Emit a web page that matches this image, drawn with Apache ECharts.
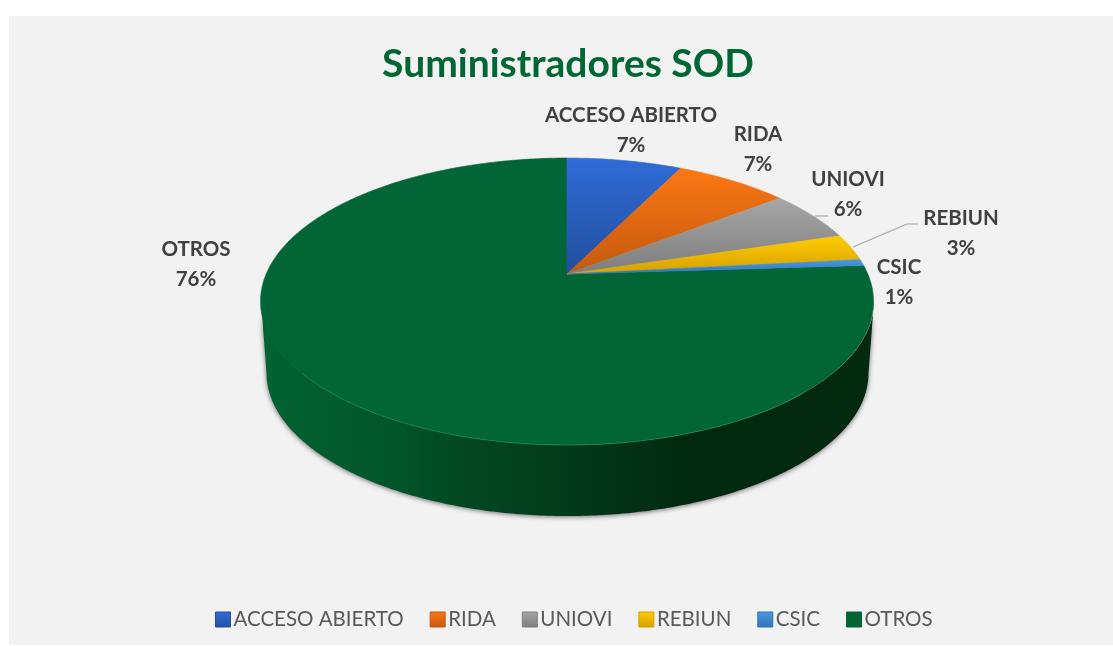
<!DOCTYPE html>
<html>
<head>
<meta charset="utf-8">
<style>html,body{margin:0;padding:0;background:#fff}#c{width:1113px;height:646px}</style>
<script src="https://cdn.jsdelivr.net/npm/echarts@6/dist/echarts.min.js"></script>
</head>
<body>
<div id="c"></div>
<script>
var categories = ['ACCESO ABIERTO', 'RIDA', 'UNIOVI', 'REBIUN', 'CSIC', 'OTROS'];
var values = [7.3, 7.2, 5.8, 3.0, 0.7, 76.0];
var topColors = ['#2f6cd8', '#fc7713', '#a6a6a6', '#ffcc00', '#4a9ae2', '#026535'];
var bottomColors = ['#234f9e', '#c4590f', '#7d7d7d', '#d69f00', '#2f74b5', '#026535'];
var labelCenters = [[631, 130], [758, 149], [848, 194], [961, 233], [899, 282], [196, 264]];
var leaderLines = [null, null, [[815, 216], [828, 216]], [[853, 247], [907, 224], [918, 224]], null, null];

var apex = [567, 274], A = 138.2, C = 0.1916, RX = 300.8;
var total = values.reduce(function (a, b) { return a + b; }, 0);

function topPt(phi) {
  var u = Math.sin(phi), v = Math.cos(phi), d = 1 + C * v;
  return [apex[0] + RX * u / d, apex[1] - A * v / d];
}
function wallTop(t) { return [567.5 + 306.5 * Math.cos(t), 301.5 + 143.5 * Math.sin(t)]; }
function wallBottom(t) { return [567.5 + 301 * Math.cos(t), 373 + 143 * Math.sin(t)]; }

function renderSlice(params, api) {
  var i = params.seriesIndex;
  var start = 0;
  for (var k = 0; k < i; k++) start += values[k];
  var a0 = start / total * 2 * Math.PI, a1 = (start + api.value(0)) / total * 2 * Math.PI;
  var pts = [apex], n = Math.max(4, Math.ceil((a1 - a0) * 60));
  for (var s = 0; s <= n; s++) pts.push(topPt(a0 + (a1 - a0) * s / n));
  var ys = pts.map(function (p) { return p[1]; });
  var fill = new echarts.graphic.LinearGradient(0, Math.min.apply(null, ys), 0, Math.max.apply(null, ys),
    [{ offset: 0, color: topColors[i] }, { offset: 1, color: bottomColors[i] }], true);
  var children = [];

  // Front wall: the visible lower half of the disc, drawn by the slice that faces the viewer
  var frontStart = Math.PI * 0.5 + 0.19, frontEnd = Math.PI * 1.5 - 0.19;
  var faces = Math.min(a1, frontEnd) > Math.max(a0, frontStart);
  if (faces) {
    var up = [], down = [], m = 240;
    for (var j = 0; j <= m; j++) {
      var t = Math.PI * j / m;
      up.push(wallTop(t));
      down.unshift(wallBottom(t));
    }
    children.push({
      type: 'polygon', shape: { points: up.concat(down) },
      style: {
        fill: new echarts.graphic.LinearGradient(262, 0, 872, 0, [
          { offset: 0, color: '#026331' }, { offset: 0.22, color: '#02542a' },
          { offset: 0.36, color: '#034520' }, { offset: 0.5, color: '#033a1b' },
          { offset: 0.63, color: '#022f15' }, { offset: 0.7, color: '#00290f' },
          { offset: 1, color: '#03290f' }], true),
        shadowBlur: 5, shadowColor: 'rgba(0,0,0,0.55)', shadowOffsetY: 1
      }
    });
  }
  children.push({
    type: 'polygon', shape: { points: pts },
    style: { fill: fill, stroke: fill, lineWidth: 0.6 }
  });
  if (faces) {
    var rim = [];
    for (var r = 40; r <= 150; r++) rim.push(wallTop(Math.PI * r / 180));
    children.push({
      type: 'polyline', shape: { points: rim },
      style: { fill: null, stroke: 'rgba(40,150,90,0.55)', lineWidth: 1 }
    });
  }
  if (leaderLines[i]) {
    children.push({
      type: 'polyline', shape: { points: leaderLines[i] },
      style: { fill: null, stroke: '#a6a6a6', lineWidth: 1.2 }
    });
  }
  children.push({
    type: 'text',
    style: {
      x: labelCenters[i][0], y: labelCenters[i][1],
      text: categories[i] + '\n' + Math.round(api.value(0) / total * 100) + '%',
      align: 'center', verticalAlign: 'middle', lineHeight: 30,
      fontFamily: 'Lato', fontWeight: 'bold', fontSize: 20.5, fill: '#404040'
    }
  });
  return { type: 'group', children: children };
}

var option = {
  animation: false,
  backgroundColor: '#ffffff',
  graphic: [{
    type: 'rect', z: -10, silent: true,
    shape: { x: 9, y: 16, width: 1104, height: 629 },
    style: { fill: '#f2f2f2' }
  }],
  title: {
    text: 'Suministradores SOD', left: 563, top: 40, textAlign: 'center',
    textStyle: { fontFamily: 'Lato', fontWeight: 'bold', fontSize: 39, color: '#006633' }
  },
  legend: {
    left: 210, top: 604, itemWidth: 15, itemHeight: 15, itemGap: 26, icon: 'rect',
    textStyle: { fontFamily: 'Lato', fontSize: 20.5, color: '#595959', padding: [0, 0, 0, -2] },
    data: categories.map(function (name, i) {
      return {
        name: name,
        itemStyle: {
          color: new echarts.graphic.LinearGradient(0, 0, 0, 1, [
            { offset: 0, color: topColors[i] }, { offset: 1, color: bottomColors[i] }]),
          borderColor: bottomColors[i], borderWidth: 1
        }
      };
    })
  },
  series: categories.map(function (name, i) {
    return {
      type: 'custom', name: name, coordinateSystem: 'none',
      silent: true, z: i === 5 ? 2 : 3,
      itemStyle: { color: topColors[i] },
      data: [[values[i]]],
      renderItem: renderSlice
    };
  })
};
echarts.init(document.getElementById('c')).setOption(option);
</script>
</body>
</html>
